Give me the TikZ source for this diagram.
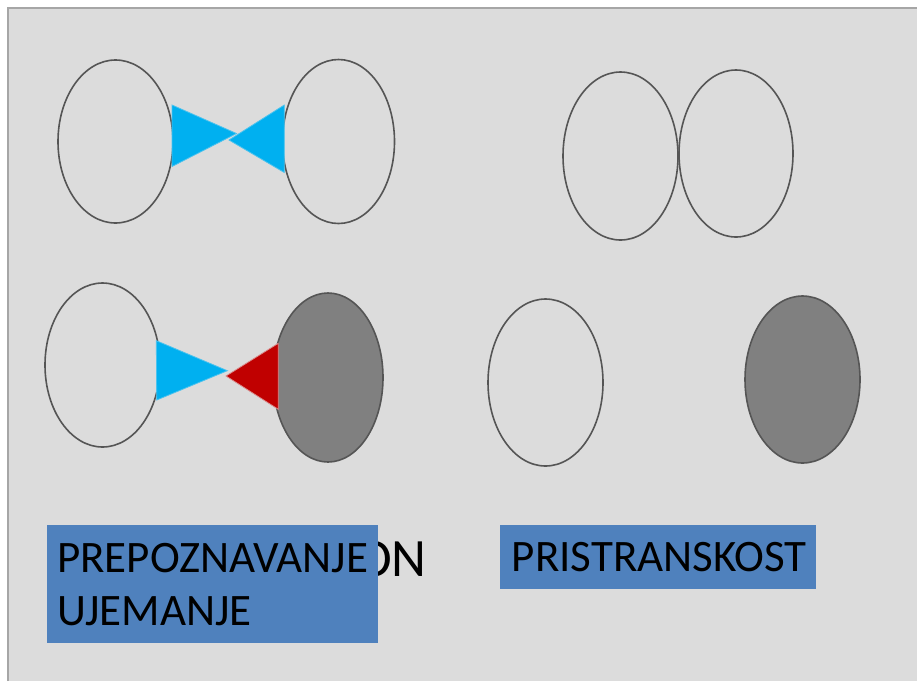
\documentclass[tikz,border=0pt]{standalone}
\usepackage{fontspec}
\setmainfont{Carlito}
\usetikzlibrary{shapes.geometric}
\definecolor{slidebg}{HTML}{DCDCDC}
\definecolor{edgegray}{HTML}{A6A6A6}
\definecolor{ringgray}{HTML}{555555}
\definecolor{darkfill}{HTML}{808080}
\definecolor{cyanfill}{HTML}{00B0F0}
\definecolor{cyanedge}{HTML}{4CC3EE}
\definecolor{redfill}{HTML}{C00000}
\definecolor{rededge}{HTML}{D98C8C}
\definecolor{boxblue}{HTML}{4F81BD}
\tikzset{
  cell/.style={ellipse, draw=ringgray, line width=1.6pt, inner sep=0pt},
  lightcell/.style={cell, fill=none},
  darkcell/.style={cell, fill=darkfill},
  bluetri/.style={fill=cyanfill, draw=cyanedge, line width=0.8pt, line join=miter},
  redtri/.style={fill=redfill, draw=rededge, line width=0.8pt, line join=miter},
  labelbox/.style={fill=boxblue, draw=none, inner sep=0pt, anchor=north west},
  labeltext/.style={font=\fontsize{45}{53}\selectfont, text=black, inner sep=0pt, anchor=base west},
}
\begin{document}
\begin{tikzpicture}[x=1pt,y=-1pt]
\useasboundingbox (0,0) rectangle (917,681);
\fill[white] (0,0) rectangle (917,681);
\fill[slidebg] (8,8) rectangle (917,681);
\draw[edgegray, line width=1.5pt] (8,681) -- (8,8) -- (917,8);
% top-left pair
\node[lightcell, minimum width=115pt, minimum height=163pt] (a1) at (115.5,141.5) {};
\node[lightcell, minimum width=112pt, minimum height=164pt] (a2) at (338.5,141.5) {};
\draw[bluetri] (172,105) -- (172,166.5) -- (236.5,133.5) -- cycle;
\draw[bluetri] (284.3,105) -- (284.3,172.5) -- (229,140) -- cycle;
% top-right pair
\node[lightcell, minimum width=115pt, minimum height=168pt] (b1) at (620.5,156) {};
\node[lightcell, minimum width=114pt, minimum height=167pt] (b2) at (736,153.5) {};
% bottom-left pair
\node[lightcell, minimum width=115pt, minimum height=164pt] (c1) at (102.5,365) {};
\node[darkcell, minimum width=110pt, minimum height=169pt] (c2) at (328,377.5) {};
\draw[bluetri] (156.3,340.7) -- (156.7,400) -- (227.3,370.7) -- cycle;
\draw[redtri] (278.3,343.3) -- (278.3,409.3) -- (226,376) -- cycle;
% bottom-right pair
\node[lightcell, minimum width=115pt, minimum height=167pt] (d1) at (545.5,382.5) {};
\node[darkcell, minimum width=115pt, minimum height=167pt] (d2) at (802.5,379.5) {};
% labels
\node[font=\fontsize{54}{60}\selectfont, inner sep=0pt, anchor=base east] (hidden) at (427,576) {ON};
\node[labelbox, minimum width=331pt, minimum height=117.7pt] (box1) at (46.7,525) {};
\node[labeltext] (t1) at (57,572) {PREPOZNAVANJE};
\node[labeltext] (t2) at (57,625) {UJEMANJE};
\node[labelbox, minimum width=316pt, minimum height=64pt] (box2) at (500,524.3) {};
\node[labeltext] (t3) at (511.7,571.7) {PRISTRANSKOST};
\end{tikzpicture}
\end{document}
